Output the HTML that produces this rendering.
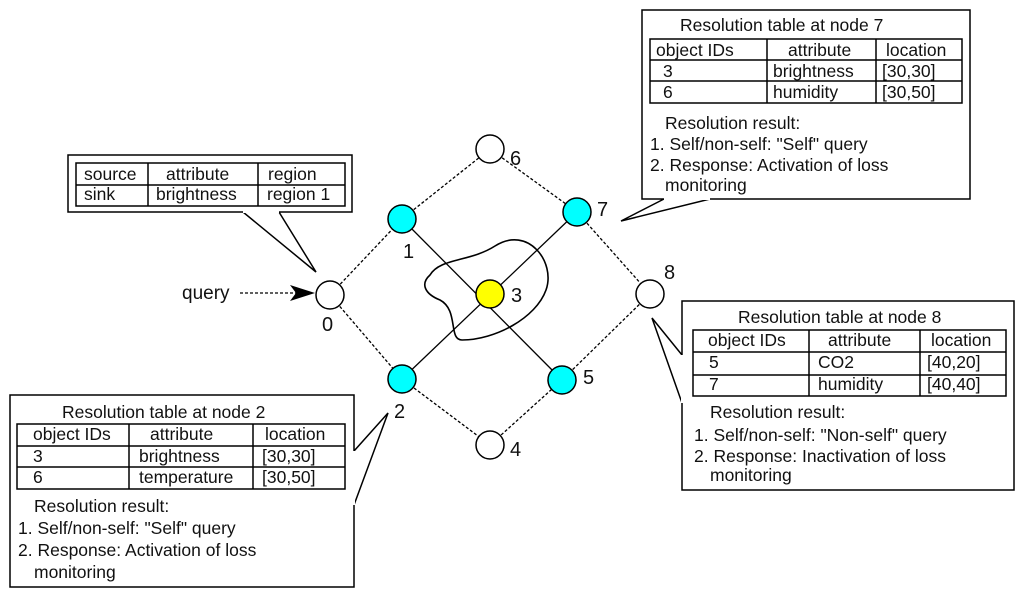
<!DOCTYPE html>
<html><head><meta charset="utf-8"><style>
html,body{margin:0;padding:0;background:#fff;}
svg{display:block;}
text{font-family:"Liberation Sans",sans-serif;font-size:17.5px;fill:#111;}
</style></head><body>
<svg width="1024" height="595" viewBox="0 0 1024 595" xmlns="http://www.w3.org/2000/svg">
<g stroke="#000" stroke-width="1.3" fill="none">
<g stroke-dasharray="3,2">
<line x1="330" y1="295" x2="402" y2="219"/>
<line x1="402" y1="219" x2="490" y2="149"/>
<line x1="490" y1="149" x2="577" y2="212"/>
<line x1="577" y1="212" x2="650" y2="294"/>
<line x1="330" y1="295" x2="402" y2="379"/>
<line x1="402" y1="379" x2="490" y2="445"/>
<line x1="490" y1="445" x2="562" y2="380"/>
<line x1="562" y1="380" x2="650" y2="294"/>
<line x1="240" y1="293" x2="300" y2="293"/>
</g>
<line x1="402" y1="219" x2="562" y2="380"/>
<line x1="577" y1="212" x2="402" y2="379"/>
<path d="M430,275 C440,258 470,262 495,246 C528,225 556,262 546,290 C536,318 495,340 462,340 C448,340 459,310 440,300 C425,294 420,284 430,275 Z" stroke-width="1.6"/>
</g>
<polygon points="315,293 290,285 296,293 290,301" fill="#000"/>
<g stroke="#000" stroke-width="1.5">
<circle cx="330" cy="295" r="14" fill="#fff"/>
<circle cx="490" cy="149" r="14" fill="#fff"/>
<circle cx="650" cy="294" r="14" fill="#fff"/>
<circle cx="490" cy="445" r="14" fill="#fff"/>
<circle cx="402" cy="219" r="14" fill="#00ffff"/>
<circle cx="577" cy="212" r="14" fill="#00ffff"/>
<circle cx="402" cy="379" r="14" fill="#00ffff"/>
<circle cx="562" cy="380" r="14" fill="#00ffff"/>
<circle cx="490" cy="294" r="14" fill="#ffff00"/>
</g>
<g>
<text x="322" y="331" style="font-size:20px">0</text>
<text x="403" y="258" style="font-size:20px">1</text>
<text x="394" y="418" style="font-size:20px">2</text>
<text x="511" y="302" style="font-size:20px">3</text>
<text x="510" y="456" style="font-size:20px">4</text>
<text x="583" y="384" style="font-size:20px">5</text>
<text x="510" y="165" style="font-size:20px">6</text>
<text x="597" y="216" style="font-size:20px">7</text>
<text x="664" y="279" style="font-size:20px">8</text>
<text x="182" y="299" style="font-size:19px">query</text>
</g>

<path d="M243,212 L68,212 L68,155 L352,155 L352,212 L279,212 L316,272 Z" fill="#fff" stroke="#000" stroke-width="1.5"/>
<line x1="243" y1="212" x2="279" y2="212" stroke="#fff" stroke-width="2"/>
<g stroke="#000" stroke-width="1.5" fill="none">
<rect x="76" y="163" width="269" height="43"/>
<line x1="76" y1="185" x2="345" y2="185"/>
<line x1="148" y1="163" x2="148" y2="206"/>
<line x1="258" y1="163" x2="258" y2="206"/>
</g>
<text x="84" y="180">source</text><text x="166" y="180">attribute</text><text x="268" y="180">region</text>
<text x="84" y="200">sink</text><text x="156" y="200">brightness</text><text x="267" y="200">region 1</text>

<path d="M664,199 L642,199 L642,10 L970,10 L970,199 L710,199 L621,221 Z" fill="#fff" stroke="#000" stroke-width="1.5"/>
<line x1="664" y1="199" x2="710" y2="199" stroke="#fff" stroke-width="2"/>
<text x="680" y="31">Resolution table at node 7</text>
<g stroke="#000" stroke-width="1.5" fill="none">
<rect x="650" y="39" width="312" height="64"/>
<line x1="650" y1="60" x2="962" y2="60"/>
<line x1="650" y1="81" x2="962" y2="81"/>
<line x1="767" y1="39" x2="767" y2="103"/>
<line x1="876" y1="39" x2="876" y2="103"/>
</g>
<text x="656" y="56">object IDs</text><text x="788" y="56">attribute</text><text x="886" y="56">location</text>
<text x="663" y="77">3</text><text x="773" y="77">brightness</text><text x="882" y="77">[30,30]</text>
<text x="663" y="98">6</text><text x="773" y="98">humidity</text><text x="882" y="98">[30,50]</text>
<text x="665" y="129">Resolution result:</text>
<text x="650" y="150">1. Self/non-self: "Self" query</text>
<text x="650" y="171">2. Response: Activation of loss</text>
<text x="665" y="191">monitoring</text>

<path d="M682,355 L682,301 L1014,301 L1014,490 L682,490 L682,403 L652,318 Z" fill="#fff" stroke="#000" stroke-width="1.5"/>
<line x1="682" y1="355" x2="682" y2="403" stroke="#fff" stroke-width="2"/>
<text x="738" y="323">Resolution table at node 8</text>
<g stroke="#000" stroke-width="1.5" fill="none">
<rect x="693" y="330" width="313" height="66"/>
<line x1="693" y1="352" x2="1006" y2="352"/>
<line x1="693" y1="375" x2="1006" y2="375"/>
<line x1="809" y1="330" x2="809" y2="396"/>
<line x1="920" y1="330" x2="920" y2="396"/>
</g>
<text x="708" y="346">object IDs</text><text x="828" y="346">attribute</text><text x="931" y="346">location</text>
<text x="709" y="368">5</text><text x="818" y="368">CO2</text><text x="927" y="368">[40,20]</text>
<text x="709" y="390">7</text><text x="818" y="390">humidity</text><text x="927" y="390">[40,40]</text>
<text x="710" y="418">Resolution result:</text>
<text x="694" y="441">1. Self/non-self: "Non-self" query</text>
<text x="694" y="462">2. Response: Inactivation of loss</text>
<text x="710" y="481">monitoring</text>

<path d="M354,451 L354,395 L10,395 L10,587 L354,587 L354,505 L388,413 Z" fill="#fff" stroke="#000" stroke-width="1.5"/>
<line x1="354" y1="451" x2="354" y2="505" stroke="#fff" stroke-width="2"/>
<text x="62" y="418">Resolution table at node 2</text>
<g stroke="#000" stroke-width="1.5" fill="none">
<rect x="17" y="424" width="328" height="65"/>
<line x1="17" y1="446" x2="345" y2="446"/>
<line x1="17" y1="467" x2="345" y2="467"/>
<line x1="129" y1="424" x2="129" y2="489"/>
<line x1="253" y1="424" x2="253" y2="489"/>
</g>
<text x="33" y="440">object IDs</text><text x="150" y="440">attribute</text><text x="265" y="440">location</text>
<text x="33" y="462">3</text><text x="139" y="462">brightness</text><text x="262" y="462">[30,30]</text>
<text x="33" y="483">6</text><text x="139" y="483">temperature</text><text x="262" y="483">[30,50]</text>
<text x="34" y="512">Resolution result:</text>
<text x="18" y="534">1. Self/non-self: "Self" query</text>
<text x="18" y="556">2. Response: Activation of loss</text>
<text x="34" y="578">monitoring</text>
</svg>
</body></html>
